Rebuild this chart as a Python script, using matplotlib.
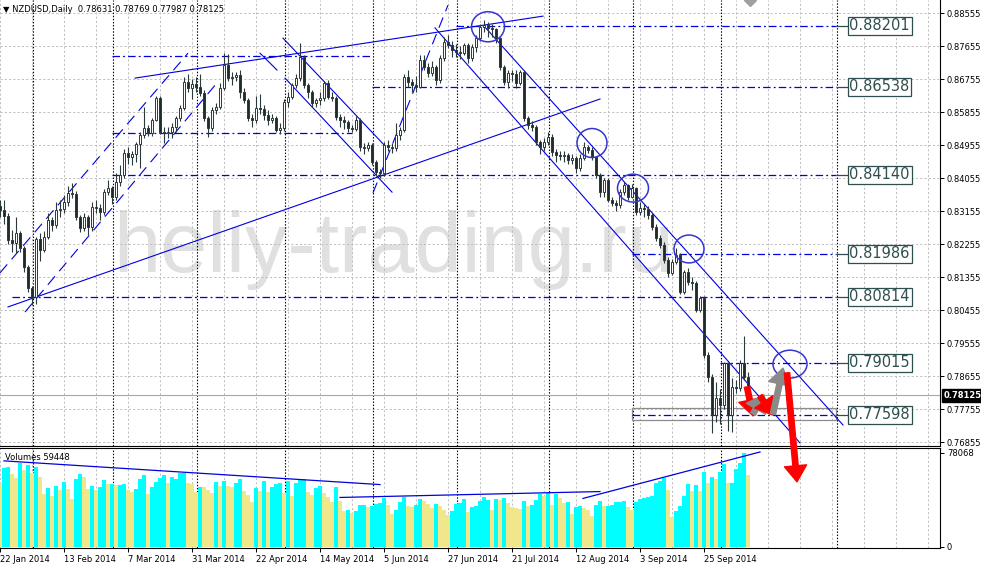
import matplotlib
matplotlib.use("Agg")
import matplotlib.pyplot as plt
import matplotlib.transforms as mtransforms
from matplotlib.patches import Rectangle, Ellipse

# =========================
# DATA
# =========================

first_open = 0.8330

closes = [
    0.8318, 0.8302, 0.8236, 0.8228, 0.8256, 0.8215, 0.8163, 0.8106, 0.8081, 0.8239,
    0.8209, 0.8245, 0.8291, 0.8277, 0.8318, 0.8320, 0.8340, 0.8365, 0.8363, 0.8299,
    0.8269, 0.8299, 0.8272, 0.8326, 0.8324, 0.8313, 0.8367, 0.8378, 0.8354, 0.8395,
    0.8414, 0.8474, 0.8463, 0.8471, 0.8498, 0.8523, 0.8542, 0.8528, 0.8564, 0.8624,
    0.8531, 0.8528, 0.8531, 0.8545, 0.8569, 0.8596, 0.8667, 0.8651, 0.8662, 0.8654,
    0.8637, 0.8569, 0.8542, 0.8591, 0.8599, 0.8651, 0.8714, 0.8678, 0.8681, 0.8686,
    0.8640, 0.8618, 0.8569, 0.8564, 0.8596, 0.8594, 0.8577, 0.8564, 0.8569, 0.8537,
    0.8542, 0.8613, 0.8626, 0.8659, 0.8678, 0.8736, 0.8659, 0.8640, 0.8610, 0.8618,
    0.8624, 0.8665, 0.8626, 0.8624, 0.8572, 0.8564, 0.8558, 0.8542, 0.8540, 0.8564,
    0.8490, 0.8488, 0.8496, 0.8449, 0.8422, 0.8419, 0.8496, 0.8490, 0.8487, 0.8523,
    0.8537, 0.8681, 0.8667, 0.8659, 0.8654, 0.8727, 0.8708, 0.8692, 0.8708, 0.8673,
    0.8733, 0.8776, 0.8768, 0.8755, 0.8749, 0.8747, 0.8768, 0.8733, 0.8763, 0.8787,
    0.8817, 0.8823, 0.8815, 0.8813, 0.8787, 0.8708, 0.8667, 0.8692, 0.8690, 0.8665,
    0.8695, 0.8569, 0.8550, 0.8545, 0.8504, 0.8490, 0.8504, 0.8517, 0.8476, 0.8468,
    0.8466, 0.8468, 0.8455, 0.8460, 0.8433, 0.8460, 0.8490, 0.8482, 0.8463, 0.8414,
    0.8367, 0.8400, 0.8346, 0.8337, 0.8332, 0.8367, 0.8386, 0.8354, 0.8378, 0.8313,
    0.8324, 0.8322, 0.8305, 0.8272, 0.8242, 0.8223, 0.8182, 0.8146, 0.8176, 0.8196,
    0.8095, 0.8149, 0.8122, 0.8119, 0.8046, 0.8078, 0.7923, 0.7863, 0.7759, 0.7806,
    0.7787, 0.7901, 0.7759, 0.7836, 0.7833, 0.7901, 0.7863, 0.78125,
]

highs = [
    0.8345, 0.8345, 0.8310, 0.8265, 0.8298, 0.8262, 0.8220, 0.8168, 0.8110, 0.8245,
    0.8255, 0.8260, 0.8310, 0.8300, 0.8340, 0.8345, 0.8360, 0.8385, 0.8392, 0.8370,
    0.8305, 0.8310, 0.8305, 0.8340, 0.8345, 0.8335, 0.8375, 0.8400, 0.8385, 0.8420,
    0.8440, 0.8485, 0.8490, 0.8480, 0.8505, 0.8530, 0.8598, 0.8550, 0.8570, 0.8630,
    0.8630, 0.8545, 0.8545, 0.8555, 0.8575, 0.8605, 0.8680, 0.8690, 0.8675, 0.8680,
    0.8690, 0.8645, 0.8575, 0.8600, 0.8610, 0.8665, 0.8746, 0.8745, 0.8695, 0.8695,
    0.8700, 0.8650, 0.8625, 0.8580, 0.8630, 0.8635, 0.8605, 0.8590, 0.8580, 0.8575,
    0.8555, 0.8620, 0.8640, 0.8665, 0.8690, 0.8774, 0.8740, 0.8665, 0.8645, 0.8625,
    0.8640, 0.8670, 0.8672, 0.8640, 0.8630, 0.8580, 0.8575, 0.8565, 0.8550, 0.8575,
    0.8570, 0.8500, 0.8505, 0.8500, 0.8455, 0.8430, 0.8505, 0.8510, 0.8500, 0.8555,
    0.8545, 0.8690, 0.8700, 0.8675, 0.8685, 0.8740, 0.8740, 0.8720, 0.8725, 0.8715,
    0.8740, 0.8790, 0.8795, 0.8780, 0.8770, 0.8765, 0.8775, 0.8775, 0.8770, 0.8795,
    0.8825, 0.8836, 0.8830, 0.8825, 0.8815, 0.8790, 0.8715, 0.8700, 0.8700, 0.8700,
    0.8700, 0.8700, 0.8575, 0.8560, 0.8550, 0.8510, 0.8515, 0.8530, 0.8525, 0.8485,
    0.8480, 0.8480, 0.8475, 0.8470, 0.8465, 0.8470, 0.8505, 0.8495, 0.8490, 0.8465,
    0.8420, 0.8405, 0.8405, 0.8355, 0.8345, 0.8375, 0.8395, 0.8390, 0.8390, 0.8380,
    0.8340, 0.8335, 0.8330, 0.8310, 0.8280, 0.8250, 0.8230, 0.8190, 0.8185, 0.8215,
    0.8200, 0.8155, 0.8160, 0.8135, 0.8125, 0.8085, 0.8085, 0.7930, 0.7870, 0.7850,
    0.7830, 0.7905, 0.7905, 0.7860, 0.7855, 0.7910, 0.7975, 0.78769,
]

lows = [
    0.8300, 0.8280, 0.8225, 0.8205, 0.8200, 0.8205, 0.8150, 0.8095, 0.8060, 0.8062,
    0.8180, 0.8205, 0.8240, 0.8262, 0.8270, 0.8300, 0.8310, 0.8330, 0.8350, 0.8290,
    0.8258, 0.8262, 0.8250, 0.8262, 0.8310, 0.8290, 0.8305, 0.8360, 0.8335, 0.8345,
    0.8385, 0.8405, 0.8445, 0.8440, 0.8450, 0.8433, 0.8515, 0.8520, 0.8520, 0.8560,
    0.8525, 0.8500, 0.8515, 0.8515, 0.8530, 0.8560, 0.8590, 0.8640, 0.8620, 0.8640,
    0.8630, 0.8560, 0.8517, 0.8535, 0.8580, 0.8595, 0.8645, 0.8670, 0.8660, 0.8670,
    0.8625, 0.8610, 0.8560, 0.8545, 0.8555, 0.8580, 0.8565, 0.8550, 0.8555, 0.8530,
    0.8525, 0.8535, 0.8600, 0.8620, 0.8650, 0.8670, 0.8650, 0.8625, 0.8600, 0.8600,
    0.8605, 0.8615, 0.8620, 0.8615, 0.8565, 0.8545, 0.8540, 0.8530, 0.8530, 0.8535,
    0.8480, 0.8470, 0.8480, 0.8440, 0.8410, 0.8405, 0.8410, 0.8480, 0.8475, 0.8480,
    0.8510, 0.8530, 0.8655, 0.8640, 0.8640, 0.8650, 0.8700, 0.8680, 0.8685, 0.8660,
    0.8665, 0.8725, 0.8760, 0.8735, 0.8735, 0.8730, 0.8740, 0.8720, 0.8725, 0.8750,
    0.8780, 0.8805, 0.8790, 0.8790, 0.8775, 0.8700, 0.8660, 0.8650, 0.8670, 0.8650,
    0.8660, 0.8560, 0.8540, 0.8535, 0.8495, 0.8470, 0.8480, 0.8495, 0.8465, 0.8450,
    0.8455, 0.8450, 0.8445, 0.8445, 0.8420, 0.8425, 0.8455, 0.8475, 0.8455, 0.8405,
    0.8355, 0.8355, 0.8340, 0.8330, 0.8315, 0.8325, 0.8360, 0.8345, 0.8350, 0.8305,
    0.8305, 0.8300, 0.8295, 0.8265, 0.8235, 0.8215, 0.8175, 0.8135, 0.8140, 0.8170,
    0.8090, 0.8090, 0.8115, 0.8100, 0.8040, 0.8040, 0.7915, 0.7850, 0.7710, 0.7740,
    0.7735, 0.7775, 0.7715, 0.7713, 0.7820, 0.7825, 0.7855, 0.77987,
]

volumes = [
    53400, 65300, 66100, 60600, 57000, 70000, 63900, 68100, 61700, 66100,
    57800, 44000, 48700, 42300, 50600, 47300, 54000, 47900, 39600, 56500,
    60600, 57800, 47900, 50600, 47300, 50100, 55600, 52300, 52500, 51500,
    51800, 52300, 47300, 45900, 48200, 56500, 59800, 44000, 50100, 54200,
    57000, 59800, 52900, 57800, 56200, 61200, 61700, 52900, 52000, 45900,
    50100, 49900, 47300, 44600, 54000, 50600, 55100, 50900, 50100, 52900,
    56200, 46500, 43200, 37600, 48700, 46800, 55100, 45900, 50100, 52300,
    52900, 44600, 55100, 42300, 52900, 55600, 56500, 45900, 43200, 48700,
    50600, 44600, 41200, 37600, 50100, 38500, 30200, 30700, 28500, 30200,
    34900, 35100, 33500, 33700, 35700, 36300, 41000, 34900, 27400, 30700,
    37600, 41200, 34000, 33500, 34900, 39600, 38200, 35400, 32100, 35700,
    34000, 30700, 26600, 30200, 35700, 36800, 39800, 29300, 33500, 34300,
    38500, 41200, 39000, 30700, 39600, 39400, 40400, 36300, 33500, 32100,
    31500, 38200, 34000, 34900, 39000, 44000, 42300, 45100, 34900, 44000,
    40400, 36800, 37000, 27400, 32900, 34000, 32700, 30700, 25700, 34900,
    38200, 34000, 34300, 34900, 37100, 37400, 38200, 33500, 30700, 37600,
    39600, 40400, 41200, 42300, 52900, 55100, 57000, 47300, 24600, 30200,
    34000, 42300, 52300, 46800, 51500, 46800, 62300, 53400, 57800, 56200,
    62000, 68900, 52900, 53000, 64800, 70000, 78068, 59448,
]

# c = volume up (aqua), k = volume down (khaki)
volume_dir = (
    "kcckkckckc" "kkckckckkc" "ckkckcckck" "cckkccckcc"
    "cckcccckkk" "ckkkckckkc" "ckkkckckcc" "ckckccckkc"
    "ckkkckkckc" "cckcccckkc" "cckkcckkkc" "kkkcccckcc"
    "ccckckckkk" "kckccckckc" "kkckcckkkc" "ckccccckkc"
    "ccccccckkc" "ccckckckck" "cckcccck"
)

date_labels = ["22 Jan 2014", "13 Feb 2014", "7 Mar 2014", "31 Mar 2014",
               "22 Apr 2014", "14 May 2014", "5 Jun 2014", "27 Jun 2014",
               "21 Jul 2014", "12 Aug 2014", "3 Sep 2014", "25 Sep 2014"]
date_bars = [0, 16, 32, 48, 64, 80, 96, 112, 128, 144, 160, 176]

month_start_bars = [8, 28, 49, 71, 93, 114, 137, 158, 180, 209]

price_ticks = [0.88555, 0.87655, 0.86755, 0.85855, 0.84955, 0.84055, 0.83155,
               0.82255, 0.81355, 0.80455, 0.79555, 0.78655, 0.77755, 0.76855]

# horizontal levels (value, bar where the line starts)
levels = [0.88201, 0.86538, 0.84140, 0.81986, 0.80814, 0.79015, 0.77598]
level_start = [114, 93, 28, 158, 3, 180, 158]
level_end = 209
label_bar = 212

# extra dash-dot segments (value, from bar, to bar)
short_levels = [(0.8738, 28, 93), (0.8528, 28, 88)]

# trend lines: (bar0, price0, bar1, price1)
solid_lines = [
    (2, 0.8054, 150, 0.8621),
    (33.75, 0.8678, 135.75, 0.8847),
    (121.25, 0.8817, 210.75, 0.7732),
    (108.75, 0.8815, 200, 0.7683),
    (70.75, 0.8787, 96, 0.8496),
    (71.25, 0.8678, 98, 0.8367),
    (65, 0.8746, 69.25, 0.8700),
]
dashed_lines = [
    (0, 0.8147, 47, 0.8746),
    (6.25, 0.8040, 54.25, 0.8665),
    (93.25, 0.8365, 112, 0.8877),
]
volume_lines = [
    (1, 71500, 95, 51800),
    (85, 41100, 150, 46000),
    (145.75, 40300, 190, 78900),
]

# circles: (bar, price, width in bars, height in price)
circles = [
    (122, 0.8818, 8.25, 0.0082),
    (148, 0.8501, 7.5, 0.0079),
    (158.25, 0.8378, 7.75, 0.0076),
    (172.25, 0.8212, 7.5, 0.0076),
    (197.5, 0.7898, 8.5, 0.0076),
]

# forecast arrows: (bar0, price0, bar1, price1, colour)
arrows = [
    (186.75, 0.7836, 188.25, 0.7757, "red"),
    (188.25, 0.7762, 191, 0.7814, "grey"),
    (190, 0.7811, 193.25, 0.7759, "red"),
    (193.25, 0.7762, 195.75, 0.7887, "grey"),
    (196.75, 0.7874, 199.25, 0.7577, "red"),
]

support_box = (158, 209, 0.7745, 0.7778)

# =========================
# FIGURE
# =========================

W, H = 981, 568
fig = plt.figure(figsize=(W / 100, H / 100), dpi=100)
fig.patch.set_facecolor("white")

ax = fig.add_axes([0, 1 - 446 / H, 940 / W, 446 / H])
axv = fig.add_axes([0, 20 / H, 940 / W, 100 / H])
ax.set_zorder(3)
axv.set_zorder(2)

blue = "#0000E0"
grid_c = "#BEBEBE"
grid_ls = (0, (2.2, 2.2))
sep_ls = (0, (1.3, 1.5))
edge = "#2A3A3A"

ax.set_xlim(0, 235)
ax.set_ylim(0.76747, 0.88910)
axv.set_xlim(0, 235)
axv.set_ylim(-900, 82200)

# grid + separators
for a in (ax, axv):
    for b in range(0, 236, 8):
        a.axvline(b, color=grid_c, lw=0.7, ls=grid_ls, zorder=0.5)
    for b in month_start_bars:
        a.axvline(b + 0.25, color="black", lw=0.8, ls=sep_ls, zorder=0.6)
for p in price_ticks:
    ax.axhline(p, color=grid_c, lw=0.7, ls=grid_ls, zorder=0.5)

# watermark
ax.text(28.25, 0.8149, "heliy-trading.ru", fontsize=61, color="#E0E0E0",
        family="Liberation Sans", ha="left", va="baseline", zorder=0.2)

# bid line
ax.axhline(closes[-1], color="#A8A8A8", lw=0.8, zorder=0.7)

# candles
opens = [first_open] + closes[:-1]
opens[-1] = 0.78631
xs = list(range(len(closes)))
ax.vlines(xs, lows, highs, color=edge, lw=0.8, zorder=2)
bottoms = [min(o, c) for o, c in zip(opens, closes)]
heights = [max(abs(c - o), 0.00012) for o, c in zip(opens, closes)]
faces = ["white" if c >= o else "#202C2C" for o, c in zip(opens, closes)]
ax.bar(xs, heights, bottom=bottoms, width=0.55, color=faces,
       edgecolor=edge, lw=0.7, zorder=3)

# levels with labels
for lv, st in zip(levels, level_start):
    ax.hlines(lv, st, level_end, color=blue, lw=0.9,
              linestyles=[(0, (6, 2.5, 1.5, 2.5))], zorder=1.5)
    ax.hlines(lv, level_end, label_bar, color="#2F4F4F", lw=0.9, zorder=1.5)
    ax.text(label_bar + 0.35, lv, f"{lv:.5f}", fontsize=10.5, color="#2F4F4F",
            ha="left", va="center", zorder=5,
            bbox=dict(boxstyle="square,pad=0.12", fc="white", ec="#2F4F4F", lw=0.9))
for lv, b0, b1 in short_levels:
    ax.hlines(lv, b0, b1, color=blue, lw=0.9,
              linestyles=[(0, (6, 2.5, 1.5, 2.5))], zorder=1.5)

# support box
bx0, bx1, by0, by1 = support_box
ax.add_patch(Rectangle((bx0, by0), bx1 - bx0, by1 - by0, fill=False,
                       ec="#8C8C8C", lw=0.9, zorder=1.4))

# trend lines
for b0, p0, b1, p1 in solid_lines:
    ax.plot([b0, b1], [p0, p1], color=blue, lw=0.8, zorder=1.6)
for b0, p0, b1, p1 in dashed_lines:
    ax.plot([b0, b1], [p0, p1], color=blue, lw=0.8, ls=(0, (10, 6)), zorder=1.6)

# circles
for cb, cp, w, h in circles:
    ax.add_patch(Ellipse((cb, cp), w, h, fill=False, ec="#3535D0", lw=1.1, zorder=4))

# arrows
for b0, p0, b1, p1, col in arrows:
    c = "#FF0000" if col == "red" else "#8A8A8A"
    ax.annotate("", xy=(b1, p1), xytext=(b0, p0), annotation_clip=False,
                arrowprops=dict(arrowstyle="simple,head_width=1.45,head_length=1.05,tail_width=0.35",
                                color=c, mutation_scale=11, shrinkA=0, shrinkB=0),
                zorder=6)

# volumes
vcols = ["#00FFFF" if d == "c" else "#F0E68C" for d in volume_dir]
axv.bar(xs, volumes, width=0.92, color=vcols, lw=0, zorder=1)
for b0, v0, b1, v1 in volume_lines:
    axv.plot([b0, b1], [v0, v1], color=blue, lw=0.9, zorder=2)

# axes styling
for a in (ax, axv):
    a.spines["left"].set_visible(False)
    for s in ("right", "bottom", "top"):
        a.spines[s].set_color("black")
        a.spines[s].set_linewidth(0.8)
ax.spines["top"].set_visible(False)

ax.yaxis.tick_right()
ax.set_yticks(price_ticks)
ax.set_yticklabels([f"{p:.5f}" for p in price_ticks], fontsize=6)
ax.tick_params(axis="y", length=3, width=0.7, pad=2)
ax.set_xticks([])

axv.yaxis.tick_right()
axv.set_yticks([0, 78068])
axv.set_yticklabels(["0", "78068"], fontsize=6)
axv.tick_params(axis="y", length=3, width=0.7, pad=2)
axv.set_xticks(date_bars)
axv.set_xticklabels(date_labels, fontsize=6, ha="left")
axv.tick_params(axis="x", length=3, width=0.7, pad=2)

# current price label
trans = mtransforms.blended_transform_factory(ax.transAxes, ax.transData)
ax.text(1.004, closes[-1], f"{closes[-1]:.5f}", transform=trans, fontsize=6,
        color="white", fontweight="bold", ha="left", va="center", clip_on=False,
        bbox=dict(boxstyle="square,pad=0.2", fc="black", ec="black"))

# headers
fig.text(3 / W, 1 - 9 / H, "\u25BC NZDUSD,Daily  0.78631 0.78769 0.77987 0.78125",
         fontsize=6, ha="left", va="center")
axv.text(5 / 940, 0.91, "Volumes 59448", transform=axv.transAxes,
         fontsize=6, ha="left", va="center", zorder=3)

# shift marker
ax.plot([187.5], [0.88910], marker="D", color="#A0A0A0", ms=6, clip_on=True, zorder=5)

fig.savefig("out.png", dpi=100)
